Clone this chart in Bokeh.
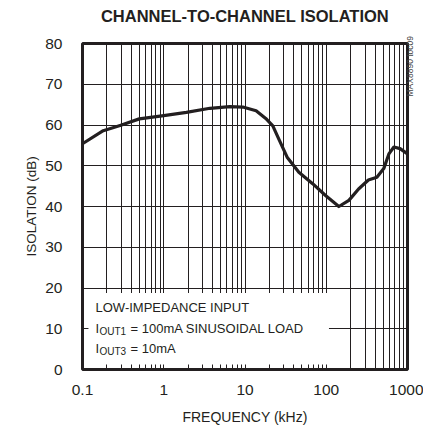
import math
from bokeh.plotting import figure
from bokeh.models import FixedTicker, Label, BoxAnnotation, Range1d, LinearAxis, LogAxis
from bokeh.embed import file_html
from bokeh.resources import INLINE

freq_khz = [0.1, 0.18, 0.29, 0.5, 1.0, 1.9, 3.7, 6.5, 9.4, 13.7, 18, 22, 26, 33, 46,
            68, 98, 143, 190, 250, 330, 420, 510, 590, 680, 810, 1000]
isolation_db = [55.4, 58.6, 59.9, 61.5, 62.3, 63.1, 64.1, 64.5, 64.4, 63.5, 61.6, 59.8,
                56.6, 52.1, 48.4, 45.6, 42.7, 40.0, 41.5, 44.3, 46.5, 47.2, 49.3, 52.9,
                54.6, 54.2, 52.9]
x_ticks = [0.1, 1, 10, 100, 1000]
x_tick_labels = ["0.1", "1", "10", "100", "1000"]
y_ticks = [0, 10, 20, 30, 40, 50, 60, 70, 80]
x_minor = [m * d for d in [0.1, 1, 10, 100] for m in range(2, 10)]
title_text = "CHANNEL-TO-CHANNEL ISOLATION"
side_note = "MAX8890 toc09"

FONT = "Liberation Sans"
INK = "#231f20"

p = figure(width=423, height=429, x_axis_type="log", output_backend="svg",
           toolbar_location=None, x_range=Range1d(0.1, 1000), y_range=Range1d(0, 80),
           min_border_left=82, min_border_right=14, min_border_top=43, min_border_bottom=60)

p.outline_line_color = INK
p.outline_line_width = 3
p.outline_line_alpha = 1

p.xaxis.ticker = FixedTicker(ticks=x_ticks, minor_ticks=x_minor)
p.xaxis.major_label_overrides = {t: l for t, l in zip(x_ticks, x_tick_labels)}
p.yaxis.ticker = FixedTicker(ticks=y_ticks)
for ax in (p.xaxis, p.yaxis):
    ax.axis_line_color = None
    ax.major_tick_line_color = None
    ax.minor_tick_line_color = None
    ax.major_label_text_font = FONT
    ax.major_label_text_font_size = "15.5px"
    ax.major_label_text_color = INK
    ax.axis_label_text_font = FONT
    ax.axis_label_text_font_style = "normal"
    ax.axis_label_text_color = INK
p.xaxis.axis_label_text_font_size = "14px"
p.yaxis.axis_label_text_font_size = "13.5px"
p.xaxis.major_label_standoff = 9
p.yaxis.major_label_standoff = 14
p.xaxis.axis_label = "FREQUENCY (kHz)"
p.xaxis.axis_label_standoff = 11
p.yaxis.axis_label = "ISOLATION (dB)"
p.yaxis.axis_label_standoff = 3

# title drawn as a single label on an extra top axis, centred over the frame
title_pos = math.sqrt(x_ticks[0] * x_ticks[-1])
top_axis = LogAxis(ticker=FixedTicker(ticks=[title_pos], minor_ticks=[]),
                   major_label_overrides={title_pos: title_text},
                   axis_line_color=None, major_tick_line_color=None,
                   minor_tick_line_color=None, major_tick_out=0, major_tick_in=0,
                   minor_tick_out=0, minor_tick_in=0, major_label_standoff=19,
                   major_label_text_font=FONT, major_label_text_font_style="bold",
                   major_label_text_font_size="16.5px", major_label_text_color=INK)
p.add_layout(top_axis, "above")

# side reference note on an extra right axis
side_pos = 67.0
right_axis = LinearAxis(ticker=FixedTicker(ticks=[side_pos], minor_ticks=[]),
                        major_label_overrides={side_pos: side_note},
                        major_label_orientation=math.pi / 2,
                        axis_line_color=None, major_tick_line_color=None,
                        minor_tick_line_color=None, major_tick_out=0, major_tick_in=0,
                        minor_tick_out=0, minor_tick_in=0, major_label_standoff=3,
                        major_label_text_font=FONT, major_label_text_font_size="8.5px",
                        major_label_text_color="#444444")
p.add_layout(right_axis, "right")

p.xgrid.grid_line_color = INK
p.xgrid.grid_line_alpha = 1
p.xgrid.grid_line_width = 1
p.xgrid.minor_grid_line_color = INK
p.xgrid.minor_grid_line_width = 1
p.ygrid.grid_line_color = INK
p.ygrid.grid_line_alpha = 1
p.ygrid.grid_line_width = 1

p.line(freq_khz, isolation_db, line_color=INK, line_width=3.2, line_join="round")

# white note box
p.add_layout(BoxAnnotation(left=0.1184, right=108, bottom=1.2, top=18.8,
                           fill_color="white", fill_alpha=1, line_color=None,
                           level="underlay"))

# note text (screen units relative to the plot frame)
note_lines = [("LOW-IMPEDANCE INPUT", None, None),
              ("I", "OUT1", "= 100mA SINUSOIDAL LOAD"),
              ("I", "OUT3", "= 10mA")]
note_y = [62, 41, 21]
for (a, sub, rest), yy in zip(note_lines, note_y):
    p.add_layout(Label(x=13, y=yy, x_units="screen", y_units="screen", text=a,
                       text_font=FONT, text_font_size="13px", text_color=INK,
                       text_baseline="alphabetic"))
    if sub:
        p.add_layout(Label(x=17, y=yy - 3, x_units="screen", y_units="screen", text=sub,
                           text_font=FONT, text_font_size="10px", text_color=INK,
                           text_baseline="alphabetic"))
        p.add_layout(Label(x=48, y=yy, x_units="screen", y_units="screen", text=rest,
                           text_font=FONT, text_font_size="13px", text_color=INK,
                           text_baseline="alphabetic"))

open("out.html", "w").write(file_html(p, INLINE))
